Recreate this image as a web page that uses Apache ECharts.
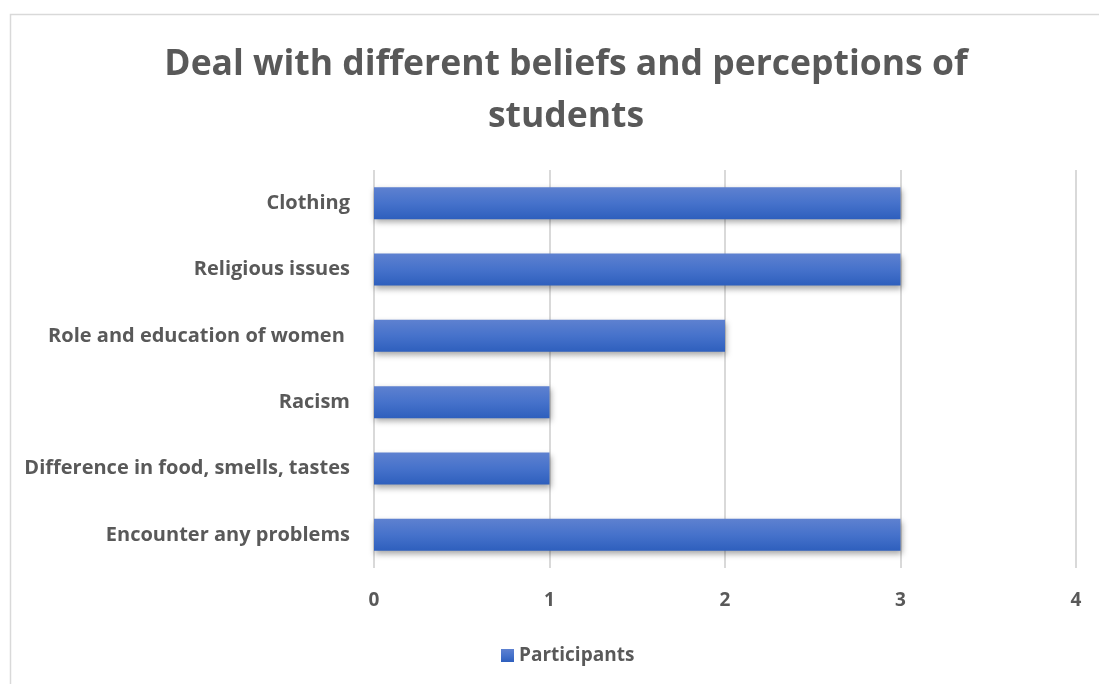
<!DOCTYPE html>
<html>
<head>
<meta charset="utf-8">
<script src="https://cdn.jsdelivr.net/npm/echarts@6/dist/echarts.min.js"></script>
<style>html,body{margin:0;padding:0;background:#fff}#c{width:1099px;height:684px}</style>
</head>
<body>
<div id="c"></div>
<script>
const titleText = "Deal with different beliefs and perceptions of\nstudents";
const categories = ["Encounter any problems", "Difference in food, smells, tastes", "Racism", "Role and education of women ", "Religious issues", "Clothing"];
const participants = [3, 1, 1, 2, 3, 3];
const xTicks = [0, 1, 2, 3, 4];
const seriesName = "Participants";

const chart = echarts.init(document.getElementById('c'), null, {renderer: 'canvas'});
const font = "'Open Sans', 'Liberation Sans', sans-serif";
chart.setOption({
  animation: false,
  backgroundColor: '#fff',
  graphic: [{type: 'rect', left: 8, top: 12, shape: {width: 1200, height: 800}, style: {fill: 'none', stroke: '#d9d9d9', lineWidth: 1.5}, silent: true, z: -1}],
  title: {
    text: titleText, left: 561, top: 34, textAlign: 'center',
    textStyle: {fontFamily: font, fontSize: 35.5, fontWeight: 'bold', color: '#595959', lineHeight: 52}
  },
  legend: {
    data: [seriesName], left: 496, top: 641, itemWidth: 13, itemHeight: 13, icon: 'rect', itemGap: 10,
    textStyle: {fontFamily: font, fontSize: 19, fontWeight: 'bold', color: '#595959'}
  },
  grid: {left: 374, right: 23, top: 170, bottom: 116, containLabel: false},
  xAxis: {
    type: 'value', min: xTicks[0], max: xTicks[xTicks.length - 1], interval: 1,
    axisLine: {show: false}, axisTick: {show: false},
    splitLine: {lineStyle: {color: '#d9d9d9', width: 2}},
    axisLabel: {fontFamily: font, fontSize: 19, fontWeight: 'bold', color: '#595959', margin: 23}
  },
  yAxis: {
    type: 'category', data: categories,
    axisLine: {show: false}, axisTick: {show: false},
    axisLabel: {fontFamily: font, fontSize: 20, fontWeight: 'bold', color: '#595959', margin: 24}
  },
  series: [{
    name: seriesName, type: 'bar', data: participants, barWidth: 32,
    itemStyle: {
      color: new echarts.graphic.LinearGradient(0, 0, 0, 1, [
        {offset: 0, color: '#5e81d0'}, {offset: 0.5, color: '#4672cb'}, {offset: 1, color: '#2e5fbd'}
      ]),
      shadowColor: 'rgba(0,0,0,0.35)', shadowBlur: 6, shadowOffsetX: 1, shadowOffsetY: 3
    }
  }]
});
</script>
</body>
</html>
